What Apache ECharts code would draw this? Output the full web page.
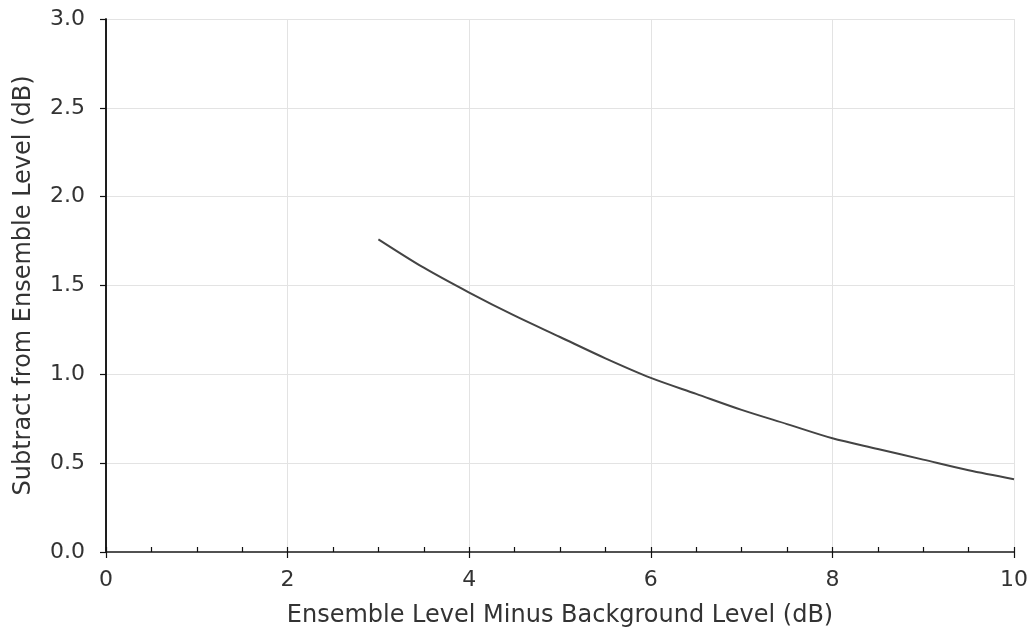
<!DOCTYPE html>
<html>
<head>
<meta charset="utf-8">
<script src="https://cdn.jsdelivr.net/npm/echarts@6/dist/echarts.min.js"></script>
<style>
html,body{margin:0;padding:0;background:#fff;}
#chart{width:1031px;height:633px;}
</style>
</head>
<body>
<div id="chart"></div>
<script>
const levelDiff = [3, 3.5, 4, 4.5, 5, 5.5, 6, 6.5, 7, 7.5, 8, 8.5, 9, 9.5, 10];
const correction = [1.76, 1.60, 1.46, 1.33, 1.21, 1.09, 0.98, 0.89, 0.80, 0.72, 0.64, 0.58, 0.52, 0.46, 0.41];
const xTitle = 'Ensemble Level Minus Background Level (dB)';
const yTitle = 'Subtract from Ensemble Level (dB)';

const FONT = 'DejaVu Sans';
const TXT = '#333';
const chart = echarts.init(document.getElementById('chart'));
const points = levelDiff.map((x, i) => [x, correction[i]]);

chart.setOption({
  animation: false,
  backgroundColor: '#fff',
  grid: { left: 106, right: 16, top: 19, bottom: 78, containLabel: false },
  xAxis: [
    {
      type: 'value', min: 0, max: 10, interval: 2, position: 'bottom',
      name: xTitle, nameLocation: 'middle', nameGap: 52,
      nameTextStyle: { fontFamily: FONT, fontSize: 24, color: TXT },
      axisLine: { show: true, onZero: false, lineStyle: { color: '#111', width: 1.5 } },
      axisTick: { show: true, inside: false, length: 6, lineStyle: { color: '#111', width: 1.2 } },
      axisLabel: { fontFamily: FONT, fontSize: 22, color: TXT, margin: 17 },
      splitLine: { show: true, lineStyle: { color: '#e3e3e3', width: 1 } }
    },
    {
      type: 'value', min: 0, max: 10, interval: 0.5, position: 'bottom',
      axisLine: { show: false },
      axisTick: { show: true, inside: true, length: 5, lineStyle: { color: '#111', width: 1.2 } },
      axisLabel: { show: false },
      splitLine: { show: false }
    },
    {
      type: 'value', min: 0, max: 10, position: 'top',
      axisLine: { show: true, lineStyle: { color: '#555', width: 1.5 } },
      axisTick: { show: false }, axisLabel: { show: false }, splitLine: { show: false }
    }
  ],
  yAxis: [
    {
      type: 'value', min: 0, max: 3, interval: 0.5, position: 'left',
      name: yTitle, nameLocation: 'middle', nameGap: 70, nameRotate: 90,
      nameTextStyle: { fontFamily: FONT, fontSize: 24, color: TXT },
      axisLine: { show: true, onZero: false, lineStyle: { color: '#111', width: 1.5 } },
      axisTick: { show: true, inside: false, length: 6, lineStyle: { color: '#111', width: 1.2 } },
      axisLabel: { fontFamily: FONT, fontSize: 22, color: TXT, margin: 21, formatter: v => v.toFixed(1) },
      splitLine: { show: true, lineStyle: { color: '#e3e3e3', width: 1 } }
    },
    {
      type: 'value', min: 0, max: 3, position: 'right',
      axisLine: { show: true, lineStyle: { color: '#111', width: 1.5 } },
      axisTick: { show: false }, axisLabel: { show: false }, splitLine: { show: false }
    }
  ],
  series: [
    {
      type: 'line', data: points, xAxisIndex: 0, yAxisIndex: 0,
      showSymbol: false, smooth: 0.3,
      lineStyle: { color: '#444', width: 2 }
    }
  ]
});
</script>
</body>
</html>
